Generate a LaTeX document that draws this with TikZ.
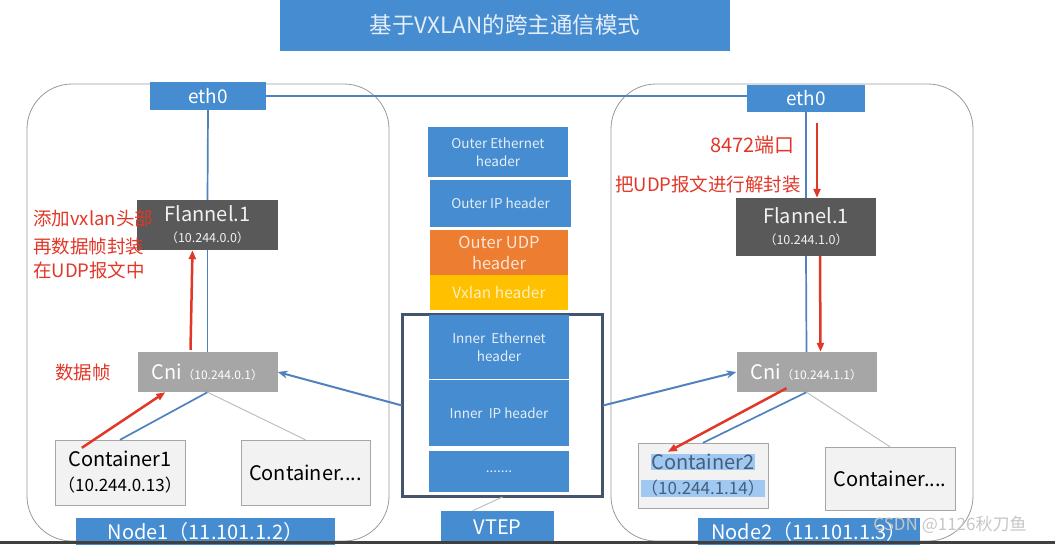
\documentclass[tikz,border=0pt]{standalone}
\usepackage{fontspec}
\setmainfont{Noto Sans CJK SC}
\usetikzlibrary{arrows.meta}
\definecolor{boxBlue}{RGB}{70,140,208}
\definecolor{lineBlue}{RGB}{80,130,190}
\definecolor{flanGray}{RGB}{89,89,89}
\definecolor{cniGray}{RGB}{166,166,166}
\definecolor{conGray}{RGB}{242,242,242}
\definecolor{udpOrange}{RGB}{237,125,49}
\definecolor{vxYellow}{RGB}{255,192,0}
\definecolor{frameSlate}{RGB}{68,84,106}
\definecolor{noteRed}{RGB}{225,55,40}
\definecolor{selBlue}{RGB}{160,200,240}
\newcommand{\fs}[1]{\fontsize{#1}{#1}\selectfont}

\begin{document}
\begin{tikzpicture}[x=1pt,y=-1pt,
    blueBox/.style={fill=boxBlue,text=white,inner sep=0pt,font=\fs{19}},
    layer/.style={fill=boxBlue,text=white!85!boxBlue,inner sep=0pt,align=center,
        minimum width=140pt,font=\fontsize{13.5}{18}\selectfont},
    flanBox/.style={fill=flanGray,text=white!90!gray,inner sep=0pt,align=center,
        minimum width=141pt,font=\fs{20}},
    cniBox/.style={fill=cniGray,text=white,inner sep=0pt,minimum width=140pt,
        minimum height=40pt,font=\fs{20}},
    conBox/.style={fill=conGray,draw=gray!70,inner sep=0pt,align=center,
        minimum width=130pt,minimum height=65pt,font=\fontsize{20}{25}\selectfont},
    hostFrame/.style={draw=gray!80,line width=0.8pt,rounded corners=45pt},
    note/.style={text=noteRed,anchor=west,inner sep=0pt,font=\fs{18.5}},
    wire/.style={draw=lineBlue,line width=1.7pt},
    thinWire/.style={draw=gray!50,line width=1pt},
    flow/.style={draw=noteRed,line width=2.5pt,-{Triangle[length=9pt,width=7pt]}},
    pass/.style={draw=lineBlue,line width=2pt,-{Stealth[length=10pt,width=8pt]}}
]
    \useasboundingbox (0,0) rectangle (1055,544);

    % draw title
    \node[blueBox,minimum width=450pt,minimum height=51pt,text=white!85!boxBlue,font=\fs{22.5}]
        (title) at (505,25) {基于VXLAN的跨主通信模式};

    % draw host frames
    \draw[hostFrame] (27,84) rectangle (389,541);
    \draw[hostFrame] (611,84) rectangle (973,541);

    % draw node1
    \node[blueBox,minimum width=116pt,minimum height=28pt] (ethA) at (208,96) {eth0};
    \node[flanBox,minimum height=50pt] (flanA) at (207.5,225)
        {Flannel.1\\[1pt]{\fs{12.5}（10.244.0.0）}};
    \node[cniBox] (cniA) at (207.5,372) {Cni{\fs{12}（10.244.0.1）}};
    \node[conBox] (conA1) at (120,472.5) {Container1\\{\fs{17}（10.244.0.13）}};
    \node[conBox,minimum width=129pt] (conA2) at (305.5,472.5) {Container....};
    \node[blueBox,minimum width=259pt,minimum height=28pt,font=\fs{20}] (hostA) at (205.5,532)
        {Node1（11.101.1.2）};

    % draw node2
    \node[blueBox,minimum width=118pt,minimum height=27pt] (ethB) at (806,98) {eth0};
    \node[flanBox,minimum width=140pt,minimum height=58pt] (flanB) at (806,227)
        {Flannel.1\\[1pt]{\fs{12.5}（10.244.1.0）}};
    \node[cniBox] (cniB) at (806.5,372) {Cni{\fs{12}（10.244.1.1）}};
    \node[conBox,text=frameSlate!80!boxBlue] (conB1) at (703,475.5)
        {\setlength\fboxsep{0pt}\colorbox{selBlue}{Container2}\\
         {\setlength\fboxsep{0pt}\fs{17}\colorbox{selBlue}{（10.244.1.14）}}};
    \node[conBox,minimum height=63pt] (conB2) at (890,478.5) {Container....};
    \node[blueBox,minimum width=222pt,minimum height=28pt,font=\fs{20}] (hostB) at (809,532)
        {Node2（11.101.1.3）};

    % draw packet layers
    \node[layer,minimum height=50pt] (oEth) at (498,152) {Outer Ethernet\\header};
    \node[layer,minimum width=141pt,minimum height=47pt] (oIp) at (500.5,203.5) {Outer IP header};
    \node[layer,fill=udpOrange,text=white!80!udpOrange,minimum width=138pt,minimum height=45pt,
        font=\fontsize{16.5}{21}\selectfont] (oUdp) at (499,252.5) {Outer UDP\\header};
    \node[layer,fill=vxYellow,text=white!75!vxYellow,minimum width=138pt,minimum height=35pt,
        font=\fs{15.5}] (vxl) at (499,292.5) {Vxlan header};
    \node[draw=frameSlate,line width=2pt,fill=white,minimum width=199pt,minimum height=181pt]
        (inner) at (502.5,405.5) {};
    \node[layer,minimum height=64pt] (iEth) at (499,347) {Inner~~Ethernet\\header};
    \node[layer,minimum height=66pt] (iIp) at (499,413) {Inner~~IP header};
    \node[layer,minimum height=41pt] (dots) at (499,471.5) {.......};
    \draw[draw=frameSlate,line width=2pt] (inner.north west) rectangle (inner.south east);
    \node[blueBox,minimum width=113pt,minimum height=33pt,font=\fs{20}] (vtep) at (497.5,527.5) {VTEP};

    % draw wires
    \draw[wire] (ethA.east) -- (ethA.east -| ethB.west);
    \draw[wire] (ethA.south) -- (flanA.north);
    \draw[wire] (flanA.south) -- (cniA.north);
    \draw[wire] (ethB.south) -- (flanB.north);
    \draw[wire] (flanB.south) -- (cniB.north);
    \draw[wire] (cniA.south) -- (conA1.north);
    \draw[thinWire] (cniA.south) -- (conA2.north);
    \draw[wire] (cniB.south) -- (conB1.north);
    \draw[thinWire] (cniB.south) -- (conB2.north);
    \draw[thinWire] ([xshift=-25pt]vtep.north) -- (inner.south);
    \draw[pass] (inner.west) -- (cniA.east);
    \draw[pass] (inner.east) -- (cniB.west);

    % draw red notes
    \node[note] (addHead) at (33,218) {添加vxlan头部};
    \node[note] (packFrame) at (33,247) {再数据帧封装};
    \node[note] (inUdp) at (33,270) {在UDP报文中};
    \node[note] (frameNote) at (55,372) {数据帧};
    \node[note,font=\fs{20}] (portNote) at (710,145) {8472端口};
    \node[note] (unpackNote) at (615,184) {把UDP报文进行解封装};

    % draw red flows
    \draw[flow] ([xshift=27pt,yshift=-8pt]conA1.north west) -- ([xshift=28pt]cniA.south west);
    \draw[flow] ([xshift=-17pt,yshift=2pt]cniA.north) -- ([xshift=-15pt]flanA.south);
    \draw[flow] ([xshift=11pt,yshift=-11pt]ethB.south) -- ([xshift=11pt]flanB.north);
    \draw[flow] ([xshift=14pt]flanB.south) -- ([xshift=14pt]cniB.north);
    \draw[flow] ([xshift=-20pt,yshift=4pt]cniB.south) -- ([xshift=30pt,yshift=-9pt]conB1.north west);

    % bottom bar and mark
    \fill[black!75] (0,541) rectangle (1055,544);
    \node[text=gray!45,font=\fs{17},inner sep=0pt] (mark) at (950,525) {CSDN @1126秋刀鱼};
\end{tikzpicture}
\end{document}
